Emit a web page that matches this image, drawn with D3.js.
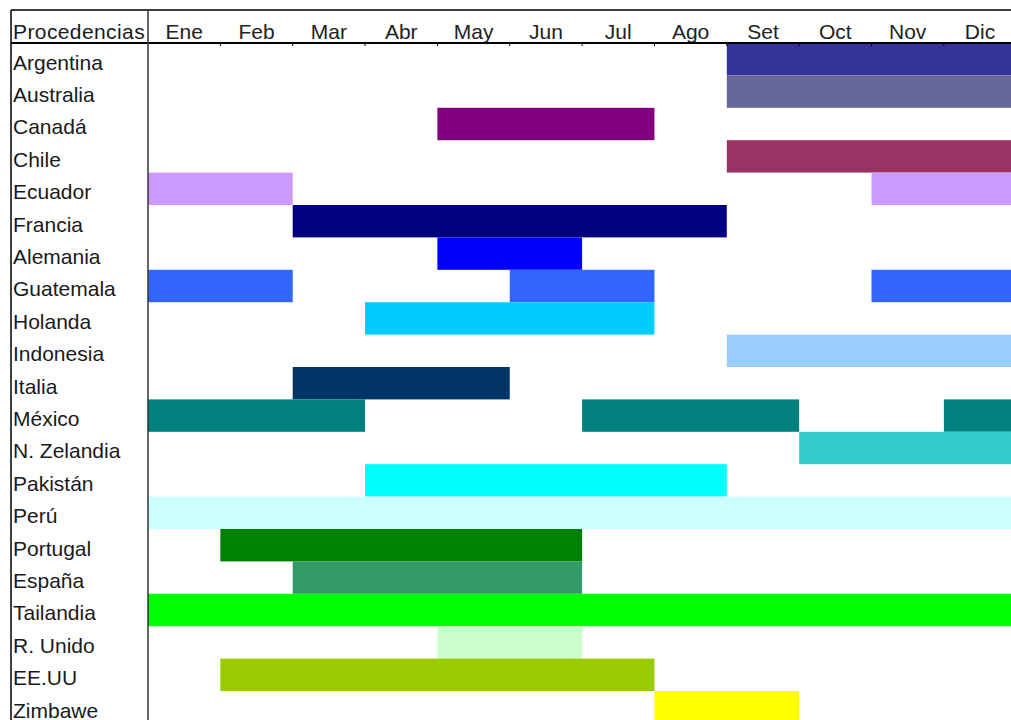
<!DOCTYPE html>
<html>
<head>
<meta charset="utf-8">
<script src="https://cdn.jsdelivr.net/npm/d3@7"></script>
<style>
  body { margin: 0; background: #fff; }
  svg { display: block; }
</style>
</head>
<body>
<div id="chart"></div>
<script>
// months shown in header
const months = ['Ene', 'Feb', 'Mar', 'Abr', 'May', 'Jun', 'Jul', 'Ago', 'Set', 'Oct', 'Nov', 'Dic'];

const countries = ['Argentina', 'Australia', 'Canadá', 'Chile', 'Ecuador', 'Francia', 'Alemania',
  'Guatemala', 'Holanda', 'Indonesia', 'Italia', 'México', 'N. Zelandia', 'Pakistán', 'Perú',
  'Portugal', 'España', 'Tailandia', 'R. Unido', 'EE.UU', 'Zimbawe'];

const colors = ['#333399', '#666699', '#800080', '#993366', '#cc99ff', '#000080', '#0000ff',
  '#3366ff', '#00ccff', '#99ccff', '#003366', '#008080', '#33cccc', '#00ffff', '#ccffff',
  '#008000', '#339966', '#00ff00', '#ccffcc', '#99cc00', '#ffff00'];

// month ranges (first month, last month, 1-based) for each country
const periods = [
  [[9, 12]],
  [[9, 12]],
  [[5, 7]],
  [[9, 12]],
  [[1, 2], [11, 12]],
  [[3, 8]],
  [[5, 6]],
  [[1, 2], [6, 7], [11, 12]],
  [[4, 7]],
  [[9, 12]],
  [[3, 5]],
  [[1, 3], [7, 9], [12, 12]],
  [[10, 12]],
  [[4, 8]],
  [[1, 12]],
  [[2, 6]],
  [[3, 6]],
  [[1, 12]],
  [[5, 6]],
  [[2, 7]],
  [[8, 9]]
];

const W = 1011, H = 720;
const leftX = 11, divider = 148, colW = 72.35, topY = 10, headBottom = 43, rowH = 32.4;
const font = '"Liberation Sans", Arial, sans-serif';

const svg = d3.select('#chart').append('svg')
  .attr('width', W)
  .attr('height', H);

const x = d3.scaleLinear()
  .domain([0, 12])
  .range([divider, divider + colW * 12]);

const y = d3.scaleBand()
  .domain(countries)
  .range([headBottom, headBottom + rowH * countries.length])
  .padding(0);

// bars
const segs = [];
countries.forEach((c, i) => {
  periods[i].forEach(p => segs.push({ country: c, color: colors[i], from: p[0] - 1, to: p[1] }));
});

svg.append('g').attr('class', 'bars')
  .selectAll('rect')
  .data(segs)
  .enter()
  .append('rect')
  .attr('x', d => x(d.from))
  .attr('y', d => y(d.country))
  .attr('width', d => x(d.to) - x(d.from))
  .attr('height', y.bandwidth())
  .attr('fill', d => d.color);

// row labels
svg.append('g').attr('class', 'labels')
  .selectAll('text')
  .data(countries)
  .enter()
  .append('text')
  .attr('x', leftX + 2)
  .attr('y', d => y(d) + 26.5)
  .attr('font-family', font)
  .attr('font-size', '21px')
  .attr('fill', '#1a1a1a')
  .text(d => d);

// header
const header = svg.append('g').attr('class', 'header');
header.append('text')
  .attr('x', leftX + 2)
  .attr('y', 38.5)
  .attr('font-family', font)
  .attr('font-size', '21px')
  .attr('letter-spacing', '0.4px')
  .attr('fill', '#1a1a1a')
  .text('Procedencias');

header.selectAll('.month')
  .data(months)
  .enter()
  .append('text')
  .attr('class', 'month')
  .attr('x', (d, i) => x(i + 0.5))
  .attr('y', 38.5)
  .attr('text-anchor', 'middle')
  .attr('font-family', font)
  .attr('font-size', '21px')
  .attr('fill', '#222')
  .text(d => d);

// small ticks at month boundaries under header
header.selectAll('.tick')
  .data(d3.range(1, 12))
  .enter()
  .append('line')
  .attr('x1', d => x(d)).attr('x2', d => x(d))
  .attr('y1', headBottom).attr('y2', headBottom + 3)
  .attr('stroke', '#000')
  .attr('stroke-width', 1);

// frame lines
svg.append('line')
  .attr('x1', leftX).attr('x2', W)
  .attr('y1', topY).attr('y2', topY)
  .attr('stroke', '#000').attr('stroke-width', 1.5);
svg.append('line')
  .attr('x1', leftX).attr('x2', W)
  .attr('y1', headBottom).attr('y2', headBottom)
  .attr('stroke', '#000').attr('stroke-width', 2);
svg.append('line')
  .attr('x1', leftX).attr('x2', leftX)
  .attr('y1', topY).attr('y2', H)
  .attr('stroke', '#000').attr('stroke-width', 1.5);
svg.append('line')
  .attr('x1', divider).attr('x2', divider)
  .attr('y1', topY).attr('y2', H)
  .attr('stroke', '#333').attr('stroke-width', 1.5);
</script>
</body>
</html>
